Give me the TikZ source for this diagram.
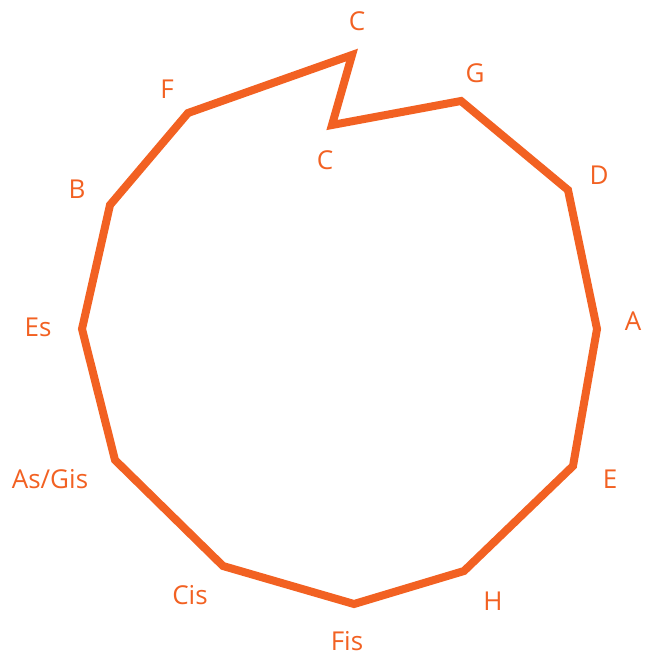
\documentclass[tikz,border=0pt]{standalone}
\usepackage{fontspec}
\setmainfont{Open Sans}
\definecolor{orng}{HTML}{F26122}
\begin{document}
\begin{tikzpicture}[x=1pt,y=-1pt,
  lbl/.style={text=orng,font=\fontsize{26}{30}\selectfont,inner sep=0pt,anchor=center},
  edge/.style={draw=orng,line width=8pt,line join=miter,miter limit=10}]
\useasboundingbox (0,0) rectangle (646,656);
\coordinate (vC1) at (352,55);
\coordinate (vC2) at (332,125);
\coordinate (vG) at (461,101);
\coordinate (vD) at (568,190);
\coordinate (vA) at (597,329);
\coordinate (vE) at (573,466);
\coordinate (vH) at (464,571);
\coordinate (vFis) at (354,604);
\coordinate (vCis) at (223,566);
\coordinate (vAs) at (115,460);
\coordinate (vEs) at (82,329);
\coordinate (vB) at (110,205);
\coordinate (vF) at (188,113);
\draw[edge] (vC1) -- (vC2) -- (vG) -- (vD) -- (vA) -- (vE) -- (vH) -- (vFis) -- (vCis) -- (vAs) -- (vEs) -- (vB) -- (vF) -- cycle;
\node[lbl] (lC1) at (357,21) {C};
\node[lbl] (lC2) at (325,160) {C};
\node[lbl] (lG) at (475,73) {G};
\node[lbl] (lD) at (599,175) {D};
\node[lbl] (lA) at (633,321) {A};
\node[lbl] (lE) at (610,479) {E};
\node[lbl] (lH) at (493,601) {H};
\node[lbl] (lFis) at (347,641) {Fis};
\node[lbl] (lCis) at (190,595) {Cis};
\node[lbl] (lAs) at (50,479) {As/Gis};
\node[lbl] (lEs) at (38,327) {Es};
\node[lbl] (lB) at (77,189) {B};
\node[lbl] (lF) at (167,89) {F};
\end{tikzpicture}
\end{document}
